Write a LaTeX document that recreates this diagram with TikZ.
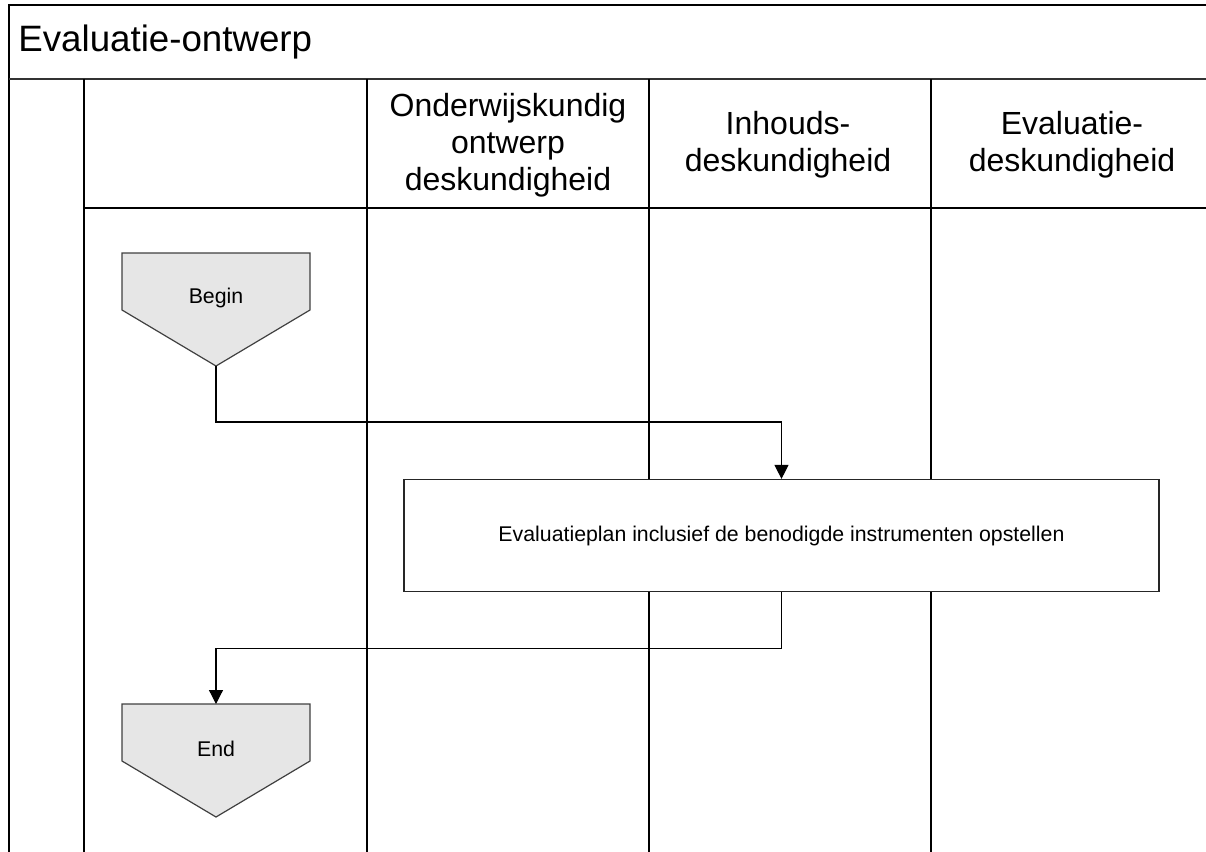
\documentclass[tikz,border=0pt]{standalone}
\usepackage{fontspec}
\setmainfont{Liberation Sans}
\usetikzlibrary{arrows.meta,positioning}

\definecolor{termfill}{HTML}{E6E6E6}
\definecolor{termline}{HTML}{404040}

\tikzset{
  lane/.style = {line width=0.6pt},
  flow/.style = {line width=0.6pt, -{Triangle[length=7pt,width=7pt]}},
  terminal/.style = {draw=termline, fill=termfill, line width=0.6pt},
  lanehead/.style = {align=center, inner sep=0pt, font=\fontsize{16}{18.4}\selectfont},
  task/.style = {draw=black!85, fill=white, line width=0.6pt, minimum width=377.5pt, minimum height=56pt,
                 inner sep=0pt, font=\fontsize{10.65}{13}\selectfont},
}

\begin{document}
\begin{tikzpicture}[x=0.5pt, y=-0.5pt]
    \useasboundingbox (0,0) rectangle (1206,852);

    % pool en lanes
    \draw[lane] (1206,5) -- (9,5) -- (9,852);
    \draw[line width=1.1pt, black!80] (9,79) -- (1206,79);
    \draw[lane] (84,79) -- (84,852);
    \draw[lane] (84,208) -- (1206,208);
    \foreach \x in {367,649,931}
        \draw[lane] (\x,79) -- (\x,852);

    \node[anchor=west, inner sep=0pt, font=\fontsize{18.35}{22}\selectfont] (pool) at (18,42) {Evaluatie-ontwerp};
    \node[lanehead] (onderwijs) at (508,145) {Onderwijskundig\\ontwerp\\deskundigheid};
    \node[lanehead] (inhoud) at (788,145) {Inhouds-\\deskundigheid};
    \node[lanehead] (evaluatie) at (1072,145) {Evaluatie-\\deskundigheid};

    % begin
    \draw[terminal] (122,253) -- (310,253) -- (310,310) -- (216,366) -- (122,310) -- cycle;
    \node[font=\fontsize{10.65}{13}\selectfont] (begin) at (216,298) {Begin};
    \coordinate (beginTip) at (216,366);

    % taak
    \node[task] (plan) at (781.5,535.5) {Evaluatieplan inclusief de benodigde instrumenten opstellen};

    % end
    \draw[terminal] (122,704) -- (310,704) -- (310,761) -- (216,817) -- (122,761) -- cycle;
    \node[font=\fontsize{10.65}{13}\selectfont] (end) at (216,749) {End};
    \coordinate (endTop) at (216,704);

    \draw[flow] (beginTip) -- ++(0,56) -| (plan.north);
    \draw[flow] (plan.south) -- ++(0,56) -| (endTop);
\end{tikzpicture}
\end{document}
